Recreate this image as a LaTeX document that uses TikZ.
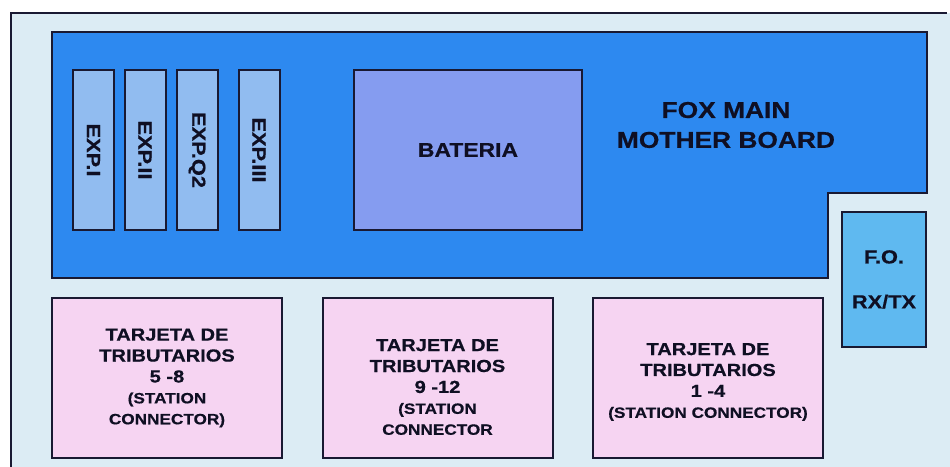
\documentclass[tikz,border=0pt]{standalone}
\usepackage{fontspec}
\usepackage{graphicx}
\setmainfont{Liberation Sans}
\newfontfamily\boldwide[FakeStretch=1.15,FakeBold=0.6]{Liberation Sans Bold}
\definecolor{bgblue}{RGB}{220,236,244}
\definecolor{boardblue}{RGB}{45,137,240}
\definecolor{expblue}{RGB}{145,188,240}
\definecolor{batblue}{RGB}{133,156,240}
\definecolor{foblue}{RGB}{95,185,240}
\definecolor{pinkfill}{RGB}{246,212,242}
\definecolor{linec}{RGB}{25,25,50}
\definecolor{txtc}{RGB}{15,15,35}
\newcommand{\tribA}{\fontsize{17.5}{21}\selectfont}
\newcommand{\tribB}{\fontsize{15}{20}\selectfont}
\tikzset{
  box/.style={draw=linec, line width=2bp, inner sep=0pt, outer sep=0pt, text=txtc, align=center},
  expbox/.style={box, fill=expblue, minimum width=41bp, minimum height=160bp,
     font=\boldwide\fontsize{19}{20}\selectfont},
  tribbox/.style={box, fill=pinkfill, minimum width=230bp, minimum height=160bp},
  bigtxt/.style={text=txtc, align=center, inner sep=0pt},
  tribtxt/.style={bigtxt, font=\boldwide\tribA}
}
\begin{document}
\begin{tikzpicture}[x=1bp,y=-1bp]
\useasboundingbox (0,0) rectangle (950,467);
\fill[white] (0,0) rectangle (950,467);
% outer frame
\fill[bgblue] (11,13) rectangle (950,467);
\draw[linec, line width=1.6bp] (11,467) -- (11,13) -- (947,13);
% main board
\draw[linec, line width=2bp, fill=boardblue]
  (52,32) -- (927,32) -- (927,193) -- (828,193) -- (828,278) -- (52,278) -- cycle;
\node[bigtxt, font=\boldwide\fontsize{23}{30}\selectfont] (fox) at (726,125) {FOX MAIN\\MOTHER BOARD};
% expansion cards
\node[expbox] (exp1) at (93.5,150) {\rotatebox[origin=c]{-90}{EXP.I}};
\node[expbox] (exp2) at (145,150) {\rotatebox[origin=c]{-90}{EXP.II}};
\node[expbox] (expq2) at (197,150) {\rotatebox[origin=c]{-90}{EXP.Q2}};
\node[expbox] (exp3) at (259,150) {\rotatebox[origin=c]{-90}{EXP.III}};
% battery
\node[box, fill=batblue, minimum width=228bp, minimum height=160bp,
  font=\boldwide\fontsize{20}{24}\selectfont] (bat) at (468,150) {BATERIA};
% F.O.
\node[box, fill=foblue, minimum width=84bp, minimum height=135bp,
  font=\boldwide\fontsize{19}{23}\selectfont] (fo) at (884,279.5) {F.O.\\[22bp]RX/TX};
% tributary cards
\node[tribbox] (t1) at (167,378) {};
\node[tribtxt] (t1txt) at (167,378) {TARJETA DE\\TRIBUTARIOS\\5 -8\\\tribB (STATION\\\tribB CONNECTOR)};
\node[tribbox] (t2) at (437.5,378) {};
\node[tribtxt] (t2txt) at (437.5,387) {TARJETA DE\\TRIBUTARIOS\\9 -12\\\tribB (STATION\\\tribB CONNECTOR};
\node[tribbox] (t3) at (708,378) {};
\node[tribtxt] (t3txt) at (708,382) {TARJETA DE\\TRIBUTARIOS\\1 -4\\\tribB (STATION CONNECTOR)};
\end{tikzpicture}
\end{document}
